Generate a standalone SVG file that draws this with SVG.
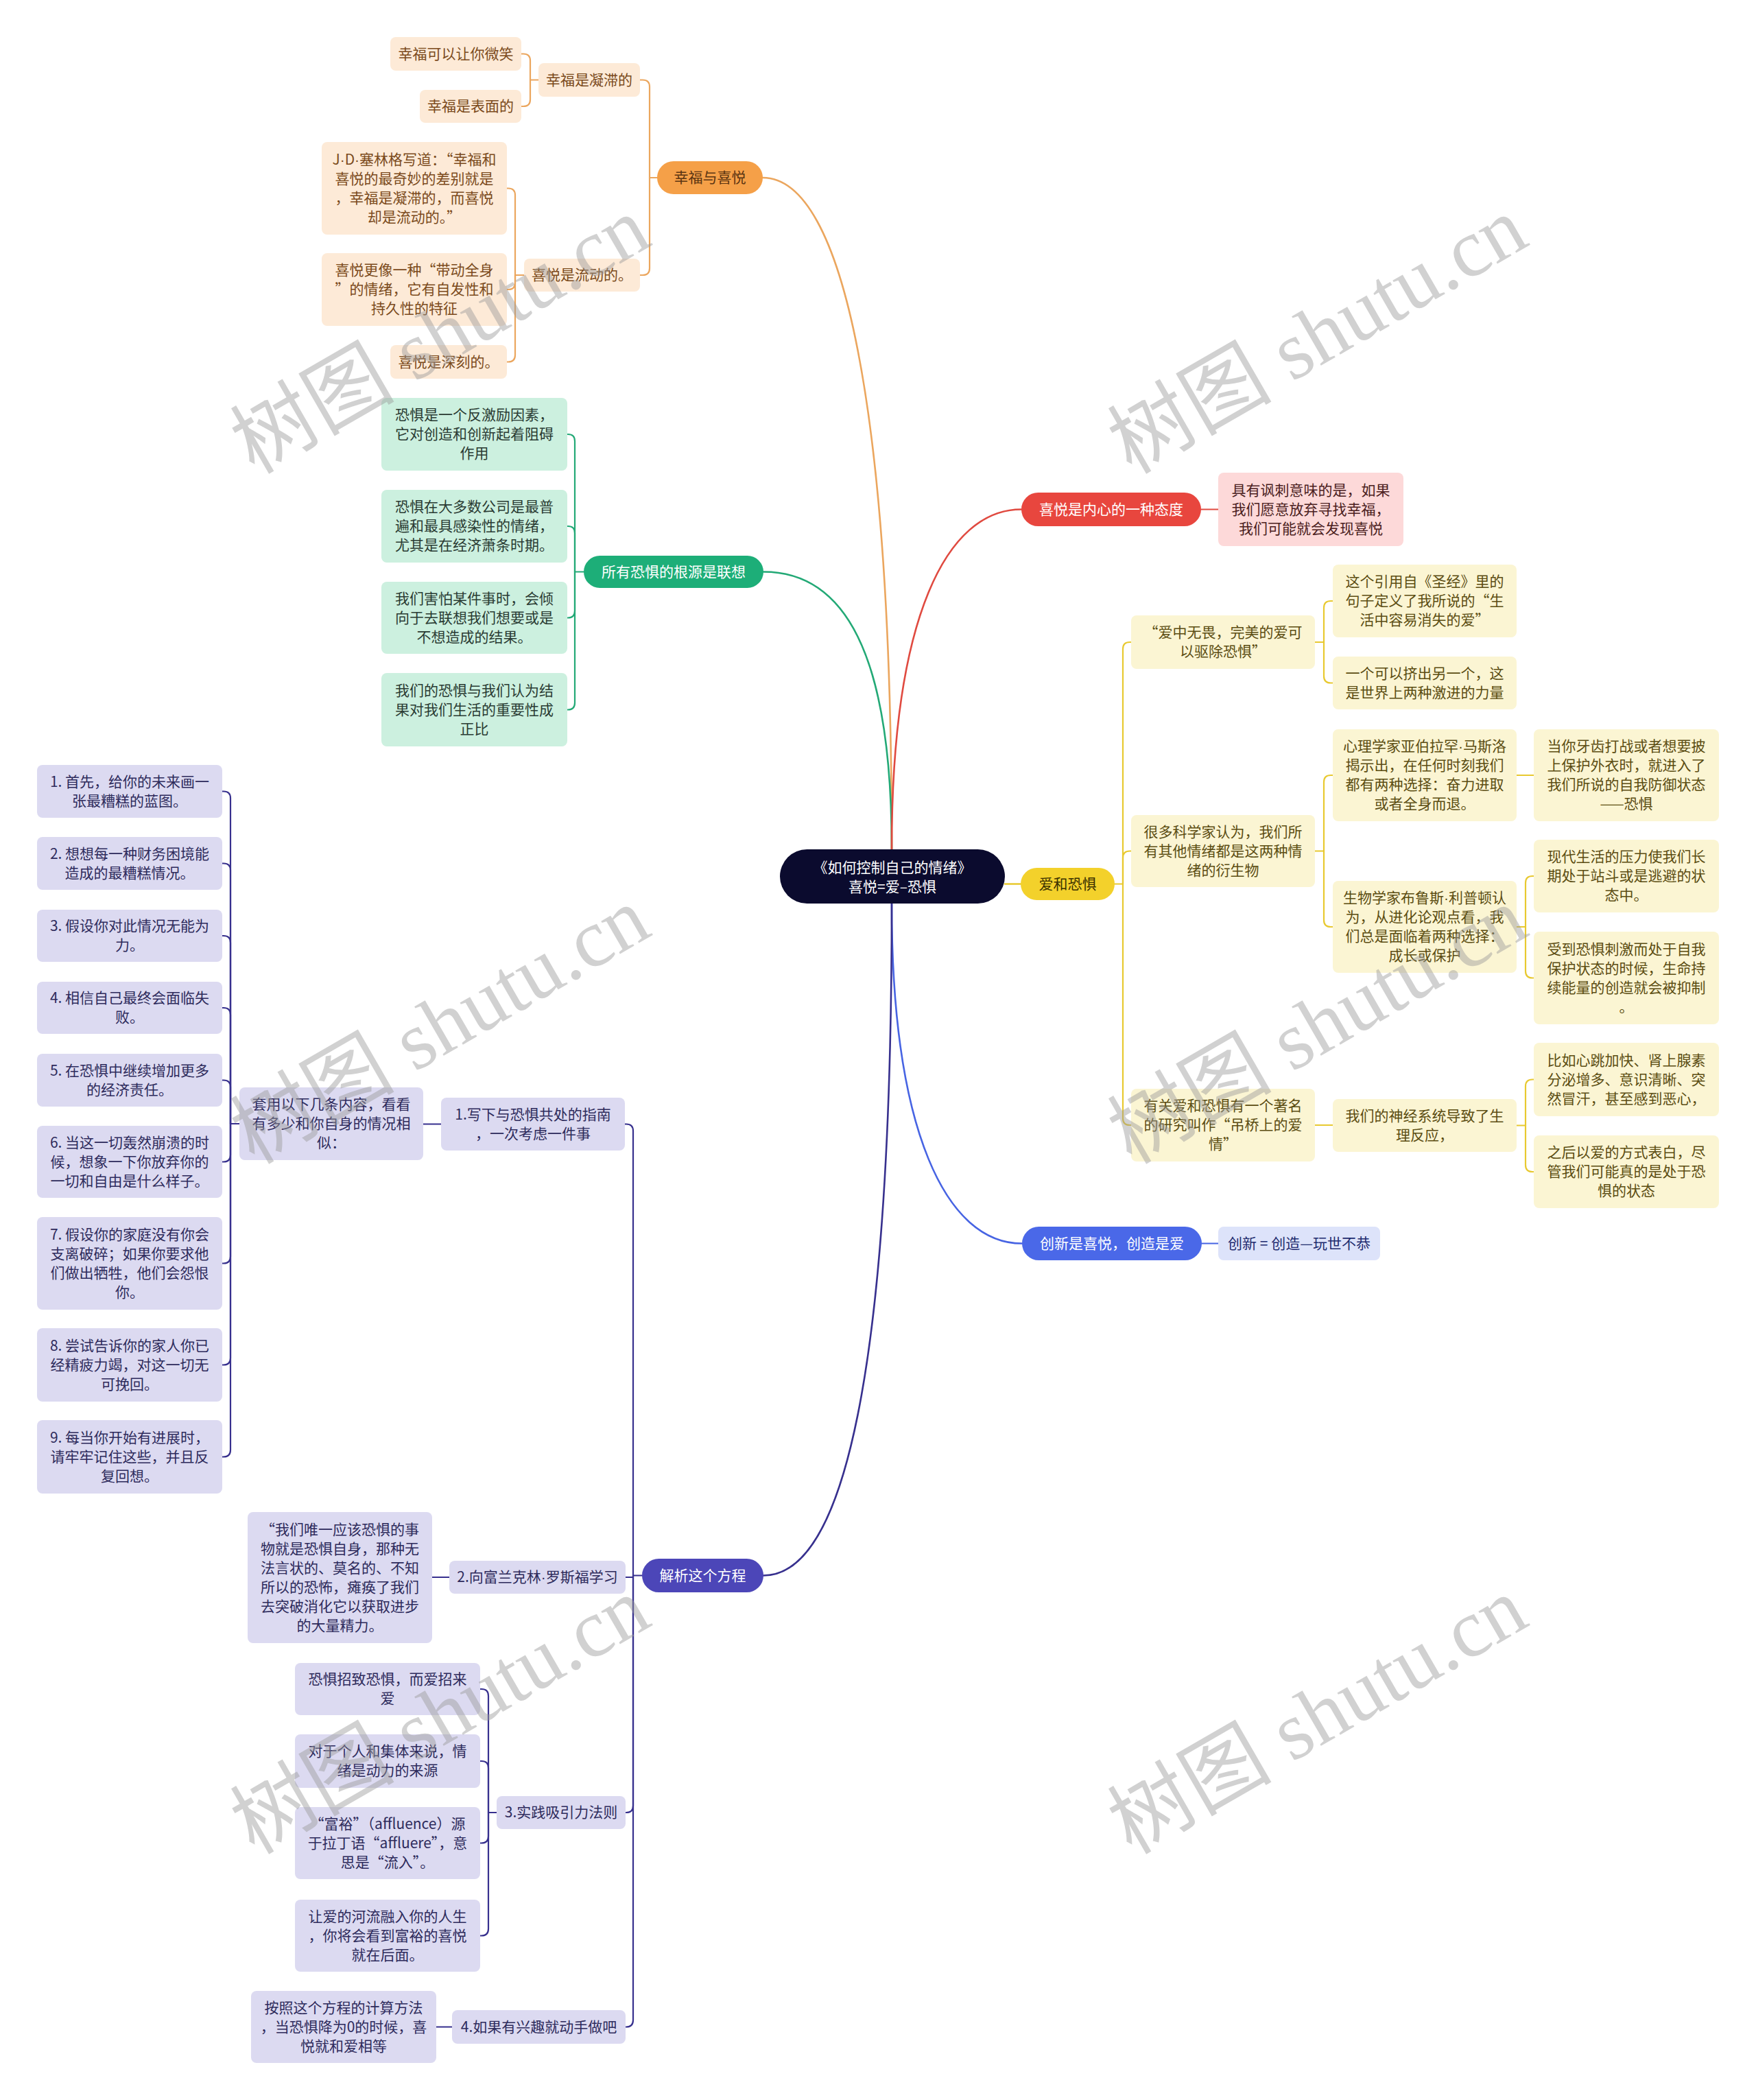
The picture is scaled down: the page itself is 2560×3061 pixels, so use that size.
<svg xmlns="http://www.w3.org/2000/svg" width="2560" height="3061" viewBox="0 0 2560 3061">
<style>
text{font-family:"Noto Sans CJK SC","Noto Sans",sans-serif;font-size:21px;text-anchor:middle}
.d{font-family:"Liberation Sans",sans-serif}
.c path{fill:none;stroke-width:2.2;stroke-linecap:round}
.co path{stroke:#EBA65E}.cg path{stroke:#23A976}.cr path{stroke:#E04A40}.cy path{stroke:#E8C930}.cb path{stroke:#4764E3}.cp path{stroke:#37308E}
.main path{stroke-width:2.6}
.fo{fill:#FDEAD7}.to{fill:#7B4A1C}
.fg{fill:#CCF0DF}.tg{fill:#2A3B33}
.fr{fill:#FDD9D9}.tr{fill:#4A2020}
.fy{fill:#FBF5D3}.ty{fill:#5B4D12}
.fb{fill:#DDE3FA}.tb{fill:#1E2B6E}
.fp{fill:#DCDAF1}.tp{fill:#2E2B5C}
.w{fill:#fff}
.wm{font-family:"Liberation Serif","Noto Sans CJK SC",serif;font-size:120px;fill:#9a9a9a;opacity:.45}
</style>
<rect width="2560" height="3061" fill="#fff"/>

<g id="connectors" class="c">
 <g class="main">
  <path d="M1300 1238 C1300 600 1230 259 1112 259" stroke="#EBA65E"/>
  <path d="M1300 1238 C1300 950 1230 833.5 1113 833.5" stroke="#23A976"/>
  <path d="M1300 1238 C1300 900 1380 742.5 1489 742.5" stroke="#E04A40"/>
  <path d="M1465 1288.5 H1488" stroke="#E8C930"/>
  <path d="M1300 1317 C1300 1650 1380 1812.5 1490 1812.5" stroke="#4764E3"/>
  <path d="M1300 1317 C1300 2000 1230 2296.5 1113 2296.5" stroke="#37308E"/>
 </g>
 <g class="co">
  <path d="M958 259 H947"/>
  <path d="M947 259 V126.5 Q947 116.5 937 116.5 H933"/>
  <path d="M947 259 V391 Q947 401 937 401 H933"/>
  <path d="M785 116.5 H773"/>
  <path d="M773 116.5 V88.5 Q773 78.5 763 78.5 H760"/>
  <path d="M773 116.5 V145 Q773 155 763 155 H760"/>
  <path d="M764 401 H751"/>
  <path d="M751 401 V284.5 Q751 274.5 741 274.5 H739"/>
  <path d="M751 401 V412 Q751 422 741 422 H739"/>
  <path d="M751 401 V517.5 Q751 527.5 741 527.5 H739"/>
 </g>
 <g class="cg">
  <path d="M851 833.5 H838"/>
  <path d="M838 833.5 V643 Q838 633 828 633 H827"/>
  <path d="M838 833.5 V777 Q838 767 828 767 H827"/>
  <path d="M838 833.5 V890.5 Q838 900.5 828 900.5 H827"/>
  <path d="M838 833.5 V1024.5 Q838 1034.5 828 1034.5 H827"/>
 </g>
 <g class="cr">
  <path d="M1751 742.5 H1776"/>
 </g>
 <g class="cy">
  <path d="M1625 1288.5 H1637"/>
  <path d="M1637 1288.5 V946 Q1637 936 1647 936 H1649"/>
  <path d="M1637 1288.5 V1250.5 Q1637 1240.5 1647 1240.5 H1649"/>
  <path d="M1637 1288.5 V1630 Q1637 1640 1647 1640 H1649"/>
  <path d="M1917 936 H1930"/>
  <path d="M1930 936 V886 Q1930 876 1940 876 H1943"/>
  <path d="M1930 936 V985.5 Q1930 995.5 1940 995.5 H1943"/>
  <path d="M1917 1240.5 H1930"/>
  <path d="M1930 1240.5 V1140 Q1930 1130 1940 1130 H1943"/>
  <path d="M1930 1240.5 V1341 Q1930 1351 1940 1351 H1943"/>
  <path d="M2211 1130 H2236"/>
  <path d="M2211 1351 H2224"/>
  <path d="M2224 1351 V1287 Q2224 1277 2234 1277 H2236"/>
  <path d="M2224 1351 V1415.5 Q2224 1425.5 2234 1425.5 H2236"/>
  <path d="M1917 1640 H1943"/>
  <path d="M2211 1640.5 H2224"/>
  <path d="M2224 1640.5 V1583.5 Q2224 1573.5 2234 1573.5 H2236"/>
  <path d="M2224 1640.5 V1698 Q2224 1708 2234 1708 H2236"/>
 </g>
 <g class="cb">
  <path d="M1752 1812.5 H1776"/>
 </g>
 <g class="cp">
  <path d="M936 2296.5 H923"/>
  <path d="M923 2296.5 V1648.5 Q923 1638.5 913 1638.5 H911"/>
  <path d="M923 2299 H912"/>
  <path d="M923 2296.5 V2632 Q923 2642 913 2642 H912"/>
  <path d="M923 2296.5 V2944.5 Q923 2954.5 913 2954.5 H912"/>
  <path d="M643 1638.5 H617"/>
  <path d="M349 1638 H336"/>
  <path d="M336 1638 V1163.5 Q336 1153.5 326 1153.5 H324"/>
  <path d="M336 1638 V1268.5 Q336 1258.5 326 1258.5 H324"/>
  <path d="M336 1638 V1374 Q336 1364 326 1364 H324"/>
  <path d="M336 1638 V1479 Q336 1469 326 1469 H324"/>
  <path d="M336 1638 V1584.5 Q336 1574.5 326 1574.5 H324"/>
  <path d="M336 1638 V1683.5 Q336 1693.5 326 1693.5 H324"/>
  <path d="M336 1638 V1831.5 Q336 1841.5 326 1841.5 H324"/>
  <path d="M336 1638 V1979.5 Q336 1989.5 326 1989.5 H324"/>
  <path d="M336 1638 V2113.5 Q336 2123.5 326 2123.5 H324"/>
  <path d="M655 2299 H630"/>
  <path d="M724 2642 H712"/>
  <path d="M712 2642 V2472 Q712 2462 702 2462 H700"/>
  <path d="M712 2642 V2577 Q712 2567 702 2567 H700"/>
  <path d="M712 2642 V2676.5 Q712 2686.5 702 2686.5 H700"/>
  <path d="M712 2642 V2811.5 Q712 2821.5 702 2821.5 H700"/>
  <path d="M659 2954.5 H636"/>
 </g>
</g>

<g id="center">
 <rect x="1137" y="1238" width="328" height="79" rx="39.5" fill="#0B0B2E"/>
 <text class="w"><tspan x="1301" y="1272">《如何控制自己的情绪》</tspan><tspan x="1301" y="1300">喜悦=爱–恐惧</tspan></text>
</g>

<!-- Orange branch -->
<g id="n-xingfu-xiyue">
 <rect x="958" y="235" width="154" height="48" rx="24" fill="#F5A048"/>
 <text fill="#5B3512" x="1035" y="266">幸福与喜悦</text>
</g>
<g id="n-xingfu-ningzhi">
 <rect class="fo" x="785" y="92" width="148" height="49" rx="8"/>
 <text class="to" x="859" y="123.5">幸福是凝滞的</text>
</g>
<g id="n-weixiao">
 <rect class="fo" x="569" y="54" width="191" height="49" rx="8"/>
 <text class="to" x="664.5" y="85.5">幸福可以让你微笑</text>
</g>
<g id="n-biaomian">
 <rect class="fo" x="612" y="131" width="148" height="48" rx="8"/>
 <text class="to" x="686" y="162">幸福是表面的</text>
</g>
<g id="n-liudong">
 <rect class="fo" x="764" y="377" width="169" height="48" rx="8"/>
 <text class="to" x="848.5" y="408">喜悦是流动的。</text>
</g>
<g id="n-jd">
 <rect class="fo" x="469" y="207" width="270" height="135" rx="8"/>
 <text class="to"><tspan x="604" y="239.5">J<tspan class="d">·</tspan>D<tspan class="d">·</tspan>塞林格写道：“幸福和</tspan><tspan x="604" y="267.5">喜悦的最奇妙的差别就是</tspan><tspan x="604" y="295.5">，幸福是凝滞的，而喜悦</tspan><tspan x="604" y="323.5">却是流动的。”</tspan></text>
</g>
<g id="n-daidong">
 <rect class="fo" x="469" y="369" width="270" height="106" rx="8"/>
 <text class="to"><tspan x="604" y="401">喜悦更像一种“带动全身</tspan><tspan x="604" y="429">”的情绪，它有自发性和</tspan><tspan x="604" y="457">持久性的特征</tspan></text>
</g>
<g id="n-shenke">
 <rect class="fo" x="569" y="503" width="170" height="49" rx="8"/>
 <text class="to" x="654" y="534.5">喜悦是深刻的。</text>
</g>

<!-- Green branch -->
<g id="n-lianxiang">
 <rect x="851" y="810" width="262" height="47" rx="23.5" fill="#1DAE78"/>
 <text class="w" x="982" y="840.5">所有恐惧的根源是联想</text>
</g>
<g id="n-g1">
 <rect class="fg" x="556" y="580" width="271" height="106" rx="8"/>
 <text class="tg"><tspan x="691.5" y="612">恐惧是一个反激励因素，</tspan><tspan x="691.5" y="640">它对创造和创新起着阻碍</tspan><tspan x="691.5" y="668">作用</tspan></text>
</g>
<g id="n-g2">
 <rect class="fg" x="556" y="714" width="271" height="106" rx="8"/>
 <text class="tg"><tspan x="691.5" y="746">恐惧在大多数公司是最普</tspan><tspan x="691.5" y="774">遍和最具感染性的情绪，</tspan><tspan x="691.5" y="802">尤其是在经济萧条时期。</tspan></text>
</g>
<g id="n-g3">
 <rect class="fg" x="556" y="848" width="271" height="105" rx="8"/>
 <text class="tg"><tspan x="691.5" y="879.5">我们害怕某件事时，会倾</tspan><tspan x="691.5" y="907.5">向于去联想我们想要或是</tspan><tspan x="691.5" y="935.5">不想造成的结果。</tspan></text>
</g>
<g id="n-g4">
 <rect class="fg" x="556" y="981" width="271" height="107" rx="8"/>
 <text class="tg"><tspan x="691.5" y="1013.5">我们的恐惧与我们认为结</tspan><tspan x="691.5" y="1041.5">果对我们生活的重要性成</tspan><tspan x="691.5" y="1069.5">正比</tspan></text>
</g>

<!-- Red branch -->
<g id="n-taidu">
 <rect x="1489" y="718" width="262" height="49" rx="24.5" fill="#E8463E"/>
 <text class="w" x="1620" y="749.5">喜悦是内心的一种态度</text>
</g>
<g id="n-fengci">
 <rect class="fr" x="1776" y="689" width="270" height="107" rx="8"/>
 <text class="tr"><tspan x="1911" y="721.5">具有讽刺意味的是，如果</tspan><tspan x="1911" y="749.5">我们愿意放弃寻找幸福，</tspan><tspan x="1911" y="777.5">我们可能就会发现喜悦</tspan></text>
</g>

<!-- Yellow branch -->
<g id="n-ai-kongju">
 <rect x="1488" y="1265" width="137" height="47" rx="23.5" fill="#F3D12B"/>
 <text fill="#3A3000" x="1556.5" y="1295.5">爱和恐惧</text>
</g>
<g id="n-wuwei">
 <rect class="fy" x="1649" y="897" width="268" height="78" rx="8"/>
 <text class="ty"><tspan x="1783" y="929">“爱中无畏，完美的爱可</tspan><tspan x="1783" y="957">以驱除恐惧”</tspan></text>
</g>
<g id="n-shengjing">
 <rect class="fy" x="1943" y="823" width="268" height="106" rx="8"/>
 <text class="ty"><tspan x="2077" y="855">这个引用自《圣经》里的</tspan><tspan x="2077" y="883">句子定义了我所说的“生</tspan><tspan x="2077" y="911">活中容易消失的爱”</tspan></text>
</g>
<g id="n-jichu">
 <rect class="fy" x="1943" y="957" width="268" height="77" rx="8"/>
 <text class="ty"><tspan x="2077" y="988.5">一个可以挤出另一个，这</tspan><tspan x="2077" y="1016.5">是世界上两种激进的力量</tspan></text>
</g>
<g id="n-kexuejia">
 <rect class="fy" x="1649" y="1188" width="268" height="105" rx="8"/>
 <text class="ty"><tspan x="1783" y="1219.5">很多科学家认为，我们所</tspan><tspan x="1783" y="1247.5">有其他情绪都是这两种情</tspan><tspan x="1783" y="1275.5">绪的衍生物</tspan></text>
</g>
<g id="n-masiluo">
 <rect class="fy" x="1943" y="1063" width="268" height="134" rx="8"/>
 <text class="ty"><tspan x="2077" y="1095">心理学家亚伯拉罕<tspan class="d">·</tspan>马斯洛</tspan><tspan x="2077" y="1123">揭示出，在任何时刻我们</tspan><tspan x="2077" y="1151">都有两种选择：奋力进取</tspan><tspan x="2077" y="1179">或者全身而退。</tspan></text>
</g>
<g id="n-fangyu">
 <rect class="fy" x="2236" y="1063" width="270" height="134" rx="8"/>
 <text class="ty"><tspan x="2371" y="1095">当你牙齿打战或者想要披</tspan><tspan x="2371" y="1123">上保护外衣时，就进入了</tspan><tspan x="2371" y="1151">我们所说的自我防御状态</tspan><tspan x="2371" y="1179">——恐惧</tspan></text>
</g>
<g id="n-lipudun">
 <rect class="fy" x="1943" y="1284" width="268" height="134" rx="8"/>
 <text class="ty"><tspan x="2077" y="1316">生物学家布鲁斯<tspan class="d">·</tspan>利普顿认</tspan><tspan x="2077" y="1344">为，从进化论观点看，我</tspan><tspan x="2077" y="1372">们总是面临着两种选择：</tspan><tspan x="2077" y="1400">成长或保护</tspan></text>
</g>
<g id="n-yali">
 <rect class="fy" x="2236" y="1224" width="270" height="106" rx="8"/>
 <text class="ty"><tspan x="2371" y="1256">现代生活的压力使我们长</tspan><tspan x="2371" y="1284">期处于站斗或是逃避的状</tspan><tspan x="2371" y="1312">态中。</tspan></text>
</g>
<g id="n-yizhi">
 <rect class="fy" x="2236" y="1358" width="270" height="135" rx="8"/>
 <text class="ty"><tspan x="2371" y="1390.5">受到恐惧刺激而处于自我</tspan><tspan x="2371" y="1418.5">保护状态的时候，生命持</tspan><tspan x="2371" y="1446.5">续能量的创造就会被抑制</tspan><tspan x="2371" y="1474.5">。</tspan></text>
</g>
<g id="n-diaoqiao">
 <rect class="fy" x="1649" y="1587" width="268" height="106" rx="8"/>
 <text class="ty"><tspan x="1783" y="1619">有关爱和恐惧有一个著名</tspan><tspan x="1783" y="1647">的研究叫作“吊桥上的爱</tspan><tspan x="1783" y="1675">情”</tspan></text>
</g>
<g id="n-shenjing">
 <rect class="fy" x="1943" y="1602" width="268" height="77" rx="8"/>
 <text class="ty"><tspan x="2077" y="1633.5">我们的神经系统导致了生</tspan><tspan x="2077" y="1661.5">理反应，</tspan></text>
</g>
<g id="n-xintiao">
 <rect class="fy" x="2236" y="1520" width="270" height="107" rx="8"/>
 <text class="ty"><tspan x="2371" y="1552.5">比如心跳加快、肾上腺素</tspan><tspan x="2371" y="1580.5">分泌增多、意识清晰、突</tspan><tspan x="2371" y="1608.5">然冒汗，甚至感到恶心，</tspan></text>
</g>
<g id="n-biaobai">
 <rect class="fy" x="2236" y="1655" width="270" height="106" rx="8"/>
 <text class="ty"><tspan x="2371" y="1687">之后以爱的方式表白，尽</tspan><tspan x="2371" y="1715">管我们可能真的是处于恐</tspan><tspan x="2371" y="1743">惧的状态</tspan></text>
</g>

<!-- Blue branch -->
<g id="n-chuangxin">
 <rect x="1490" y="1788" width="262" height="49" rx="24.5" fill="#4A68E8"/>
 <text class="w" x="1621" y="1819.5">创新是喜悦，创造是爱</text>
</g>
<g id="n-wanshi">
 <rect class="fb" x="1776" y="1788" width="236" height="49" rx="8"/>
 <text class="tb" x="1894" y="1819.5">创新 = 创造—玩世不恭</text>
</g>

<!-- Purple branch -->
<g id="n-jiexi">
 <rect x="936" y="2272" width="177" height="49" rx="24.5" fill="#4C46B8"/>
 <text class="w" x="1024.5" y="2303.5">解析这个方程</text>
</g>
<g id="n-p1">
 <rect class="fp" x="643" y="1600" width="268" height="77" rx="8"/>
 <text class="tp"><tspan x="777" y="1631.5">1.写下与恐惧共处的指南</tspan><tspan x="777" y="1659.5">，一次考虑一件事</tspan></text>
</g>
<g id="n-taoyong">
 <rect class="fp" x="349" y="1585" width="268" height="106" rx="8"/>
 <text class="tp"><tspan x="483" y="1617">套用以下几条内容，看看</tspan><tspan x="483" y="1645">有多少和你自身的情况相</tspan><tspan x="483" y="1673">似：</tspan></text>
</g>
<g id="n-i1">
 <rect class="fp" x="54" y="1115" width="270" height="77" rx="8"/>
 <text class="tp"><tspan x="189" y="1146.5">1. 首先，给你的未来画一</tspan><tspan x="189" y="1174.5">张最糟糕的蓝图。</tspan></text>
</g>
<g id="n-i2">
 <rect class="fp" x="54" y="1220" width="270" height="77" rx="8"/>
 <text class="tp"><tspan x="189" y="1251.5">2. 想想每一种财务困境能</tspan><tspan x="189" y="1279.5">造成的最糟糕情况。</tspan></text>
</g>
<g id="n-i3">
 <rect class="fp" x="54" y="1326" width="270" height="76" rx="8"/>
 <text class="tp"><tspan x="189" y="1357">3. 假设你对此情况无能为</tspan><tspan x="189" y="1385">力。</tspan></text>
</g>
<g id="n-i4">
 <rect class="fp" x="54" y="1431" width="270" height="76" rx="8"/>
 <text class="tp"><tspan x="189" y="1462">4. 相信自己最终会面临失</tspan><tspan x="189" y="1490">败。</tspan></text>
</g>
<g id="n-i5">
 <rect class="fp" x="54" y="1536" width="270" height="77" rx="8"/>
 <text class="tp"><tspan x="189" y="1567.5">5. 在恐惧中继续增加更多</tspan><tspan x="189" y="1595.5">的经济责任。</tspan></text>
</g>
<g id="n-i6">
 <rect class="fp" x="54" y="1641" width="270" height="105" rx="8"/>
 <text class="tp"><tspan x="189" y="1672.5">6. 当这一切轰然崩溃的时</tspan><tspan x="189" y="1700.5">候，想象一下你放弃你的</tspan><tspan x="189" y="1728.5">一切和自由是什么样子。</tspan></text>
</g>
<g id="n-i7">
 <rect class="fp" x="54" y="1774" width="270" height="135" rx="8"/>
 <text class="tp"><tspan x="189" y="1806.5">7. 假设你的家庭没有你会</tspan><tspan x="189" y="1834.5">支离破碎；如果你要求他</tspan><tspan x="189" y="1862.5">们做出牺牲，他们会怨恨</tspan><tspan x="189" y="1890.5">你。</tspan></text>
</g>
<g id="n-i8">
 <rect class="fp" x="54" y="1936" width="270" height="107" rx="8"/>
 <text class="tp"><tspan x="189" y="1968.5">8. 尝试告诉你的家人你已</tspan><tspan x="189" y="1996.5">经精疲力竭，对这一切无</tspan><tspan x="189" y="2024.5">可挽回。</tspan></text>
</g>
<g id="n-i9">
 <rect class="fp" x="54" y="2070" width="270" height="107" rx="8"/>
 <text class="tp"><tspan x="189" y="2102.5">9. 每当你开始有进展时，</tspan><tspan x="189" y="2130.5">请牢牢记住这些，并且反</tspan><tspan x="189" y="2158.5">复回想。</tspan></text>
</g>
<g id="n-p2">
 <rect class="fp" x="655" y="2275" width="257" height="48" rx="8"/>
 <text class="tp" x="783.5" y="2306">2.向富兰克林<tspan class="d">·</tspan>罗斯福学习</text>
</g>
<g id="n-weiyi">
 <rect class="fp" x="361" y="2204" width="269" height="191" rx="8"/>
 <text class="tp"><tspan x="495.5" y="2236.5">“我们唯一应该恐惧的事</tspan><tspan x="495.5" y="2264.5">物就是恐惧自身，那种无</tspan><tspan x="495.5" y="2292.5">法言状的、莫名的、不知</tspan><tspan x="495.5" y="2320.5">所以的恐怖，瘫痪了我们</tspan><tspan x="495.5" y="2348.5">去突破消化它以获取进步</tspan><tspan x="495.5" y="2376.5">的大量精力。</tspan></text>
</g>
<g id="n-p3">
 <rect class="fp" x="724" y="2618" width="188" height="48" rx="8"/>
 <text class="tp" x="818" y="2649">3.实践吸引力法则</text>
</g>
<g id="n-zhaozhi">
 <rect class="fp" x="430" y="2424" width="270" height="76" rx="8"/>
 <text class="tp"><tspan x="565" y="2455">恐惧招致恐惧，而爱招来</tspan><tspan x="565" y="2483">爱</tspan></text>
</g>
<g id="n-dongli">
 <rect class="fp" x="430" y="2528" width="270" height="78" rx="8"/>
 <text class="tp"><tspan x="565" y="2560">对于个人和集体来说，情</tspan><tspan x="565" y="2588">绪是动力的来源</tspan></text>
</g>
<g id="n-fuyu">
 <rect class="fp" x="430" y="2634" width="270" height="105" rx="8"/>
 <text class="tp"><tspan x="565" y="2665.5">“富裕”（affluence）源</tspan><tspan x="565" y="2693.5">于拉丁语“affluere”，意</tspan><tspan x="565" y="2721.5">思是“流入”。</tspan></text>
</g>
<g id="n-heliu">
 <rect class="fp" x="430" y="2769" width="270" height="105" rx="8"/>
 <text class="tp"><tspan x="565" y="2800.5">让爱的河流融入你的人生</tspan><tspan x="565" y="2828.5">，你将会看到富裕的喜悦</tspan><tspan x="565" y="2856.5">就在后面。</tspan></text>
</g>
<g id="n-p4">
 <rect class="fp" x="659" y="2930" width="253" height="49" rx="8"/>
 <text class="tp" x="785.5" y="2961.5">4.如果有兴趣就动手做吧</text>
</g>
<g id="n-anzhao">
 <rect class="fp" x="366" y="2902" width="270" height="105" rx="8"/>
 <text class="tp"><tspan x="501" y="2933.5">按照这个方程的计算方法</tspan><tspan x="501" y="2961.5">，当恐惧降为0的时候，喜</tspan><tspan x="501" y="2989.5">悦就和爱相等</tspan></text>
</g>

<g id="watermarks">
 <text class="wm" x="662" y="524" transform="rotate(-30 662 524)">树图 shutu.cn</text>
 <text class="wm" x="1941" y="524" transform="rotate(-30 1941 524)">树图 shutu.cn</text>
 <text class="wm" x="662" y="1530" transform="rotate(-30 662 1530)">树图 shutu.cn</text>
 <text class="wm" x="1941" y="1530" transform="rotate(-30 1941 1530)">树图 shutu.cn</text>
 <text class="wm" x="662" y="2536" transform="rotate(-30 662 2536)">树图 shutu.cn</text>
 <text class="wm" x="1941" y="2536" transform="rotate(-30 1941 2536)">树图 shutu.cn</text>
</g>
</svg>
